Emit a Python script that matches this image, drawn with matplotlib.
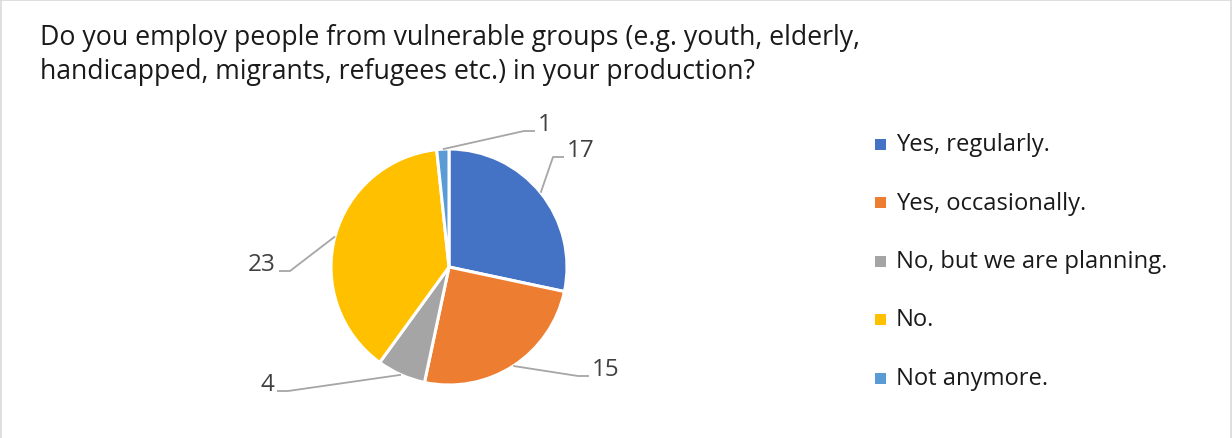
import numpy as np
import matplotlib
matplotlib.use("Agg")
import matplotlib.pyplot as plt
from matplotlib.lines import Line2D

# Survey answers
categories = ["Yes, regularly.", "Yes, occasionally.", "No, but we are planning.",
              "No.", "Not anymore."]
counts = [17, 15, 4, 23, 1]
colors = ["#4472C4", "#ED7D31", "#A5A5A5", "#FFC000", "#5B9BD5"]
title_lines = ["Do you employ people from vulnerable groups (e.g. youth, elderly,",
               "handicapped, migrants, refugees etc.) in your production?"]

W, H = 1232, 439
plt.rcParams["font.family"] = ["Open Sans", "DejaVu Sans"]

fig = plt.figure(figsize=(W / 100, H / 100), dpi=100)
ax = fig.add_axes([0, 0, 1, 1])

# pixel-space layout (y measured from the top of the canvas)
cx, cy, r = 449, 268, 118
def py(y):
    return H - y

wedges, _ = ax.pie(counts, colors=colors, startangle=90, counterclock=False,
                   center=(cx, py(cy)), radius=r,
                   wedgeprops=dict(edgecolor="white", linewidth=2.2))
ax.set_xlim(0, W)
ax.set_ylim(0, H)
ax.set_aspect("auto")
ax.axis("off")

# label elbow (x, y of horizontal segment), segment direction
label_layout = [
    ((553, 158), +1),
    ((578, 377), +1),
    ((288, 392), -1),
    ((290, 272), -1),
    ((524, 132), +1),
]
seg_len = 11
for w, val, (elbow, side) in zip(wedges, counts, label_layout):
    mid = np.deg2rad((w.theta1 + w.theta2) / 2)
    sx = cx + r * np.cos(mid)
    sy = py(cy) + r * np.sin(mid)
    ex, ey = elbow
    ex2 = ex + side * seg_len
    ax.add_line(Line2D([sx, ex, ex2], [sy, py(ey), py(ey)], color="#A6A6A6",
                       linewidth=1.3, solid_capstyle="butt"))
    ax.text(ex2 + side * 3, py(ey) + 1, str(val), ha="left" if side > 0 else "right",
            va="baseline", fontsize=17.5, color="#404040")

# title
for i, line in enumerate(title_lines):
    fig.text(40 / W, py(38 + 34 * i) / H, line, ha="left", va="center",
             fontsize=19.2, color="#1a1a1a")

# legend
for i, (lab, col) in enumerate(zip(categories, colors)):
    y = 145 + i * 58.5
    ax.add_patch(plt.Rectangle((875, py(y) - 5.5), 11, 11, facecolor=col, edgecolor="none"))
    ax.text(896, py(y), lab, ha="left", va="center", fontsize=17.1, color="#1a1a1a")

# chart border
for xs, ys in [([0.5, 0.5], [0, H]), ([W - 1.5, W - 1.5], [0, H]), ([0, W], [H - 0.5, H - 0.5])]:
    ax.add_line(Line2D(xs, ys, color="#D9D9D9", linewidth=1.2))

fig.savefig("out.png", dpi=100, facecolor="white")
